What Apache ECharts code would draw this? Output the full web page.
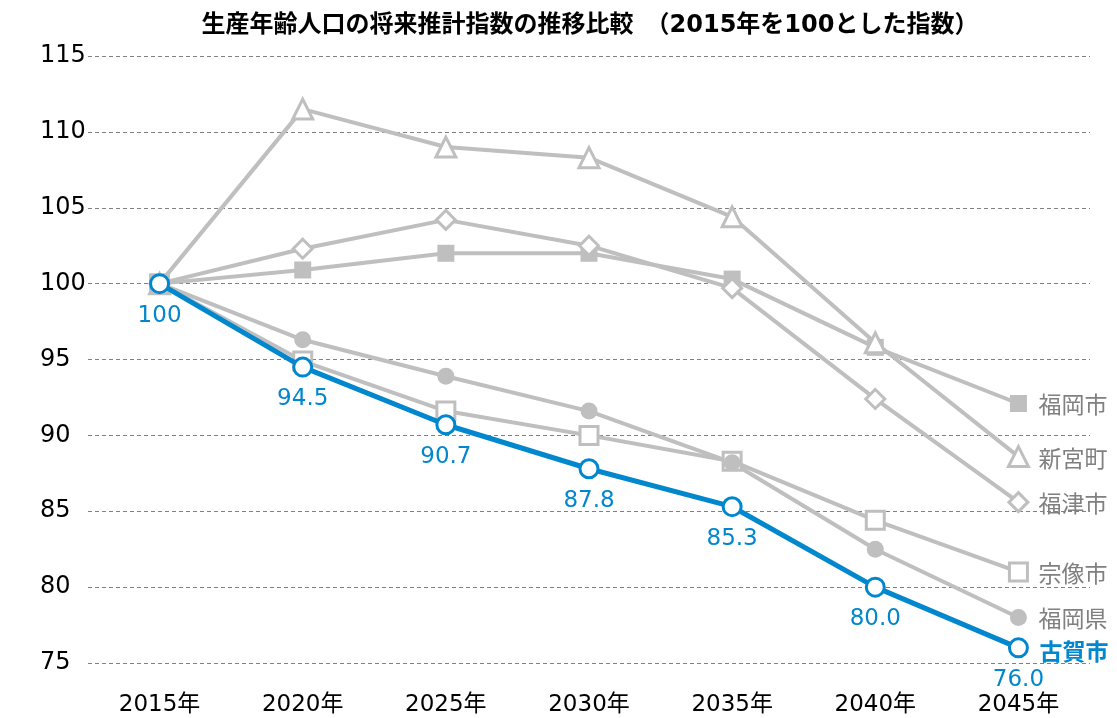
<!DOCTYPE html>
<html><head><meta charset="utf-8">
<script src="https://cdn.jsdelivr.net/npm/echarts@6/dist/echarts.min.js"></script>
<style>html,body{margin:0;padding:0;background:#fff}#c{width:1117px;height:718px}</style>
</head><body><div id="c"></div>
<script>
const titleText = '生産年齢人口の将来推計指数の推移比較　（2015年を100とした指数）';
const years = ['2015年','2020年','2025年','2030年','2035年','2040年','2045年'];
const fukuokaShi = [100, 100.9, 102.0, 102.0, 100.3, 95.8, 92.1];
const shingu = [100, 111.5, 109.0, 108.3, 104.4, 96.1, 88.6];
const fukutsu = [100, 102.3, 104.2, 102.5, 99.7, 92.4, 85.6];
const munakata = [100, 94.9, 91.6, 90.0, 88.3, 84.4, 81.0];
const fukuokaKen = [100, 96.3, 93.9, 91.6, 88.2, 82.5, 78.0];
const koga = [100, 94.5, 90.7, 87.8, 85.3, 80.0, 76.0];
const kogaLabels = ['100','94.5','90.7','87.8','85.3','80.0','76.0'];

const GRAY = '#BFBFBF';
const BLUE = '#0087CD';
const JP = '"DejaVu Sans","Noto Sans CJK JP",sans-serif';

function graySeries(name, data, symbol, filled, size) {
  return {
    name, type: 'line', data, symbol, symbolSize: size,
    lineStyle: { color: GRAY, width: 4 },
    itemStyle: filled ? { color: GRAY, borderColor: GRAY, borderWidth: 0 }
                      : { color: '#fff', borderColor: GRAY, borderWidth: 3 },
    endLabel: { show: true, formatter: name, color: '#808080', fontSize: 23, fontFamily: JP, distance: 20, offset: [0, 4] },
    z: 2, animation: false
  };
}

const chart = echarts.init(document.getElementById('c'));
chart.setOption({
  animation: false,
  title: { text: titleText, left: 585, textAlign: 'center', top: 9,
    textStyle: { fontSize: 24, fontWeight: 'bold', color: '#000', fontFamily: JP } },
  grid: { left: 88, right: 27, top: 56, bottom: 55, containLabel: false },
  xAxis: {
    type: 'category', data: years, boundaryGap: true,
    axisLine: { show: false }, axisTick: { show: false },
    axisLabel: { color: '#000', fontSize: 23, fontFamily: JP, margin: 31 }
  },
  yAxis: {
    type: 'value', min: 75, max: 115, interval: 5,
    axisLine: { show: false }, axisTick: { show: false },
    axisLabel: { color: '#000', fontSize: 24, fontFamily: JP, align: 'left', margin: 48 },
    splitLine: { lineStyle: { color: '#808080', type: [4, 3], width: 1 } }
  },
  series: [
    graySeries('福岡市', fukuokaShi, 'rect', true, 17),
    graySeries('新宮町', shingu, 'triangle', false, 20),
    graySeries('福津市', fukutsu, 'diamond', false, 19),
    graySeries('宗像市', munakata, 'rect', false, 18),
    graySeries('福岡県', fukuokaKen, 'circle', true, 17),
    {
      name: '古賀市', type: 'line', data: koga, symbol: 'circle', symbolSize: 18,
      lineStyle: { color: BLUE, width: 5 },
      itemStyle: { color: '#fff', borderColor: BLUE, borderWidth: 3 },
      label: { show: true, position: 'bottom', distance: 10, color: BLUE, fontSize: 23, fontFamily: JP,
        formatter: p => kogaLabels[p.dataIndex] },
      endLabel: { show: true, formatter: '古賀市', color: BLUE, fontSize: 23, fontWeight: 'bold', fontFamily: JP, distance: 21, offset: [0, 6] },
      z: 5
    }
  ]
});
</script></body></html>
